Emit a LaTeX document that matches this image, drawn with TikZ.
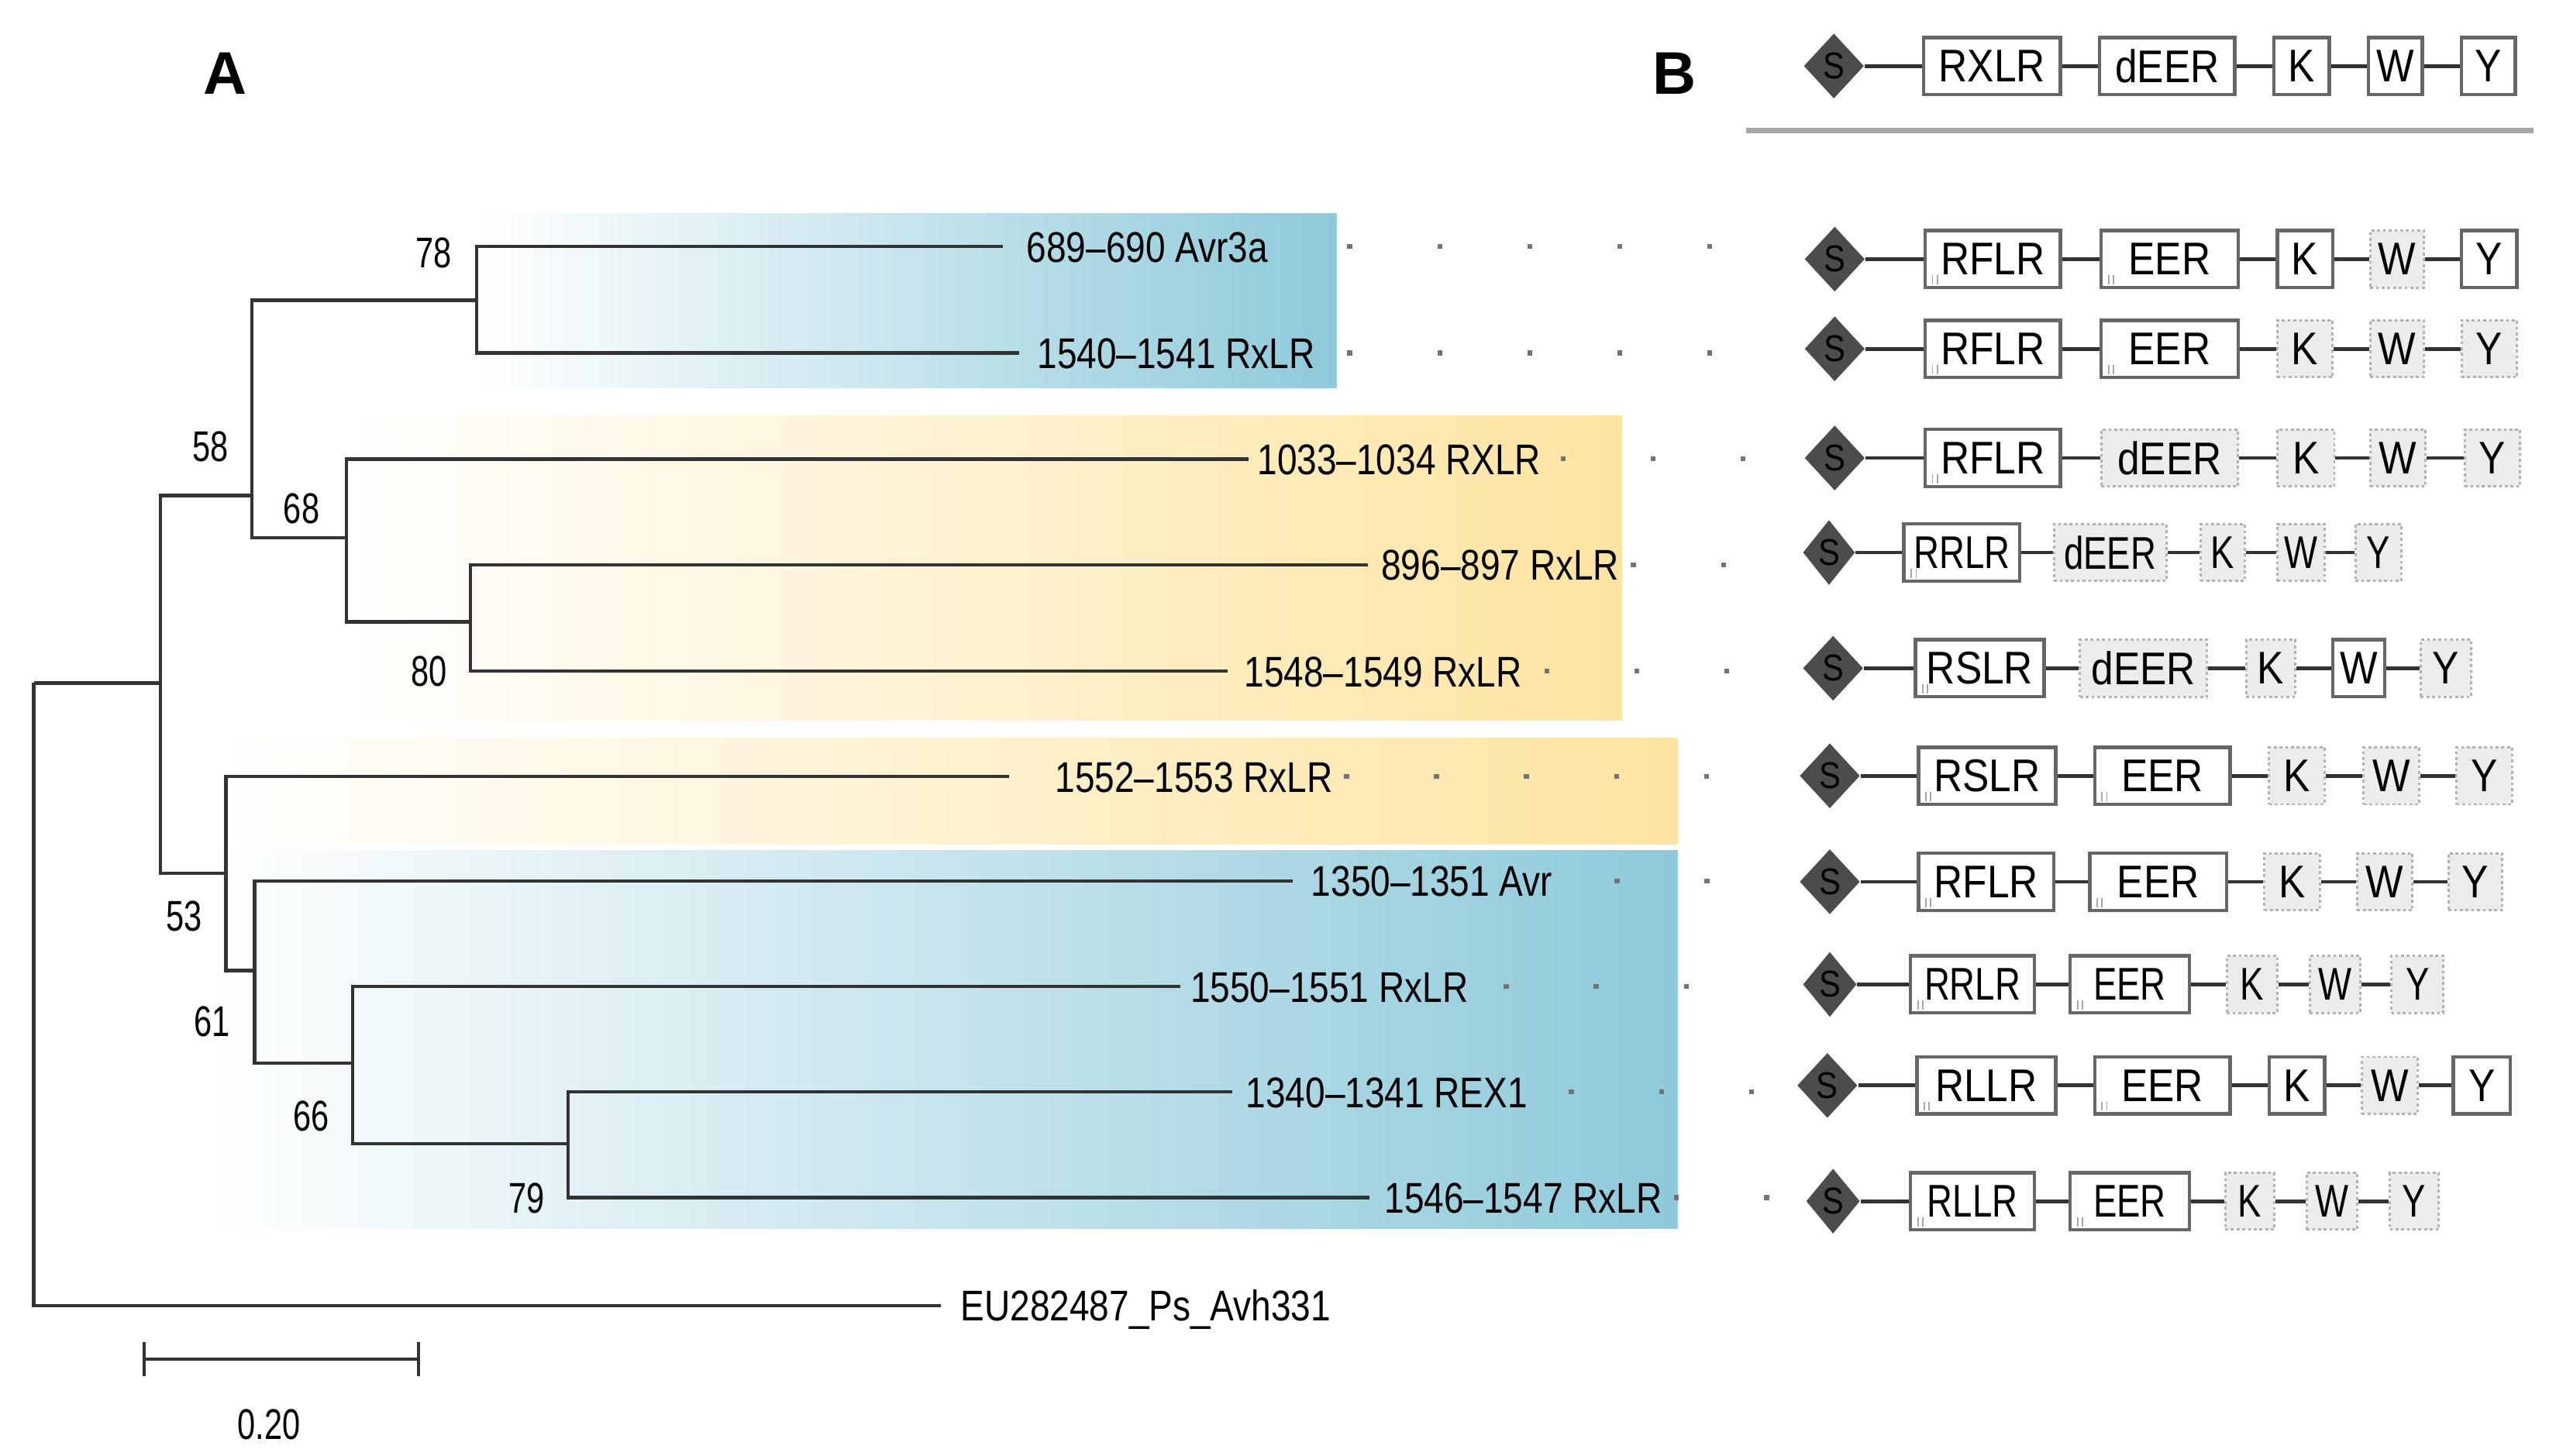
\documentclass[tikz,border=0pt]{standalone}
\usepackage{fontspec}
\setmainfont{Liberation Sans}
\newfontfamily\leaffont[FakeStretch=0.83]{Liberation Sans}
\newfontfamily\bootfont[FakeStretch=0.75]{Liberation Sans}
\newfontfamily\motiffont[FakeStretch=0.87]{Liberation Sans}
\newfontfamily\motiffontn[FakeStretch=0.77]{Liberation Sans}
\usetikzlibrary{shapes.geometric,positioning}
\definecolor{cladeblue}{RGB}{142,202,218}
\definecolor{cladeyellow}{RGB}{254,228,160}

\begin{document}
\begin{tikzpicture}[x=0.2mm, y=-0.2mm,
  branch/.style={line width=1.2pt, black!80},
  leaf/.style={anchor=west, inner sep=0pt, text height=3.8mm, text depth=0pt,
    font=\leaffont\fontsize{15}{15}\selectfont},
  boot/.style={inner sep=0pt, font=\bootfont\fontsize{15}{15}\selectfont},
  leader/.style={fill=black!55},
  panel/.style={font=\fontsize{21}{21}\selectfont\bfseries},
  sig/.style={diamond, fill=black!70, inner sep=0pt, minimum width=7.4mm,
    minimum height=8mm, font=\motiffont\fontsize{13}{13}\selectfont},
  bw/.style={minimum width=#1*0.2mm},
  motif/.style={draw=black!60, line width=1.2pt, fill=white, inner sep=0pt,
    minimum height=7mm, font=\motiffont\fontsize{16}{16}\selectfont},
  pfam/.style={motif, path picture={
      \draw[gray!70, line width=.5pt]
        ([xshift=.9mm,yshift=.4mm]path picture bounding box.south west) -- ++(0,1.1mm)
        ([xshift=1.5mm,yshift=.4mm]path picture bounding box.south west) -- ++(0,1.1mm);}},
  weak/.style={draw=gray!60, dash pattern=on 1pt off 1pt, line width=.8pt,
    fill=gray!15, inner sep=0pt, minimum height=7mm,
    font=\motiffont\fontsize{16}{16}\selectfont},
  narrow/.style={font=\motiffontn\fontsize{16}{16}\selectfont},
  link/.style={gray!40!black, line width=1.3pt}]
  \useasboundingbox (0,0) rectangle (1568,893.3);

  % clade shading
  \shade[left color=white, right color=cladeblue] (292,131) rectangle (820,238);
  \shade[left color=white, right color=cladeyellow] (207,255) rectangle (995,442);
  \shade[left color=white, right color=cladeyellow] (130,453) rectangle (1029,518);
  \shade[left color=white, right color=cladeblue] (125,522) rectangle (1029,754);

  % panel letters
  \node[panel] (pA) at (138,45) {A};
  \node[panel] (pB) at (1027,45) {B};

  % internal nodes
  \coordinate (root) at (20.7,419);
  \coordinate (nA) at (98.4,419);
  \coordinate (n58) at (154.4,304);
  \coordinate (n78) at (292.5,184.3);
  \coordinate (n68) at (212.5,330);
  \coordinate (n80) at (288.5,381.5);
  \coordinate (n53) at (138.5,535.7);
  \coordinate (n61) at (156.1,595.5);
  \coordinate (n66) at (216.2,652.3);
  \coordinate (n79) at (348.6,701.8);
  % tips
  \coordinate (t1) at (615,151.3);
  \coordinate (t2) at (625,216.5);
  \coordinate (t3) at (766,281.6);
  \coordinate (t4) at (839,346.5);
  \coordinate (t5) at (753,411.8);
  \coordinate (t6) at (619,476.5);
  \coordinate (t7) at (793,540.5);
  \coordinate (t8) at (724,605.3);
  \coordinate (t9) at (756,670);
  \coordinate (t10) at (840,734.8);
  \coordinate (out) at (577,801);

  % branches
  \foreach \p/\c in {root/nA, root/out, nA/n58, nA/n53, n58/n78, n58/n68,
      n78/t1, n78/t2, n68/t3, n68/n80, n80/t4, n80/t5, n53/t6, n53/n61,
      n61/t7, n61/n66, n66/t8, n66/n79, n79/t9, n79/t10}
    \draw[branch] (\p) |- (\c);

  % tip labels
  \node[leaf] (lab1) at (629.5,151.3) {689–690 Avr3a};
  \node[leaf] (lab2) at (636,216.5) {1540–1541 RxLR};
  \node[leaf] (lab3) at (771,281.6) {1033–1034 RXLR};
  \node[leaf] (lab4) at (847,346.5) {896–897 RxLR};
  \node[leaf] (lab5) at (763,411.8) {1548–1549 RxLR};
  \node[leaf] (lab6) at (647,476.5) {1552–1553 RxLR};
  \node[leaf] (lab7) at (804,540.5) {1350–1351 Avr};
  \node[leaf] (lab8) at (730,605.3) {1550–1551 RxLR};
  \node[leaf] (lab9) at (764,670) {1340–1341 REX1};
  \node[leaf] (lab10) at (849,734.8) {1546–1547 RxLR};
  \node[leaf] (labout) at (589,801) {EU282487\_Ps\_Avh331};

  % bootstrap values
  \node[boot] (b78) at (266,155) {78};
  \node[boot] (b58) at (129,274) {58};
  \node[boot] (b68) at (185,312) {68};
  \node[boot] (b80) at (263,412) {80};
  \node[boot] (b53) at (113,562) {53};
  \node[boot] (b61) at (130,627) {61};
  \node[boot] (b66) at (191,685) {66};
  \node[boot] (b79) at (323,735) {79};

  % dotted leaders
  \foreach \y/\s/\n in {151.3/828/5, 216.5/828/5, 281.6/959/3, 346.5/1002/2,
      411.8/949/3, 476.5/826/5, 540.5/992/2, 605.3/924/3, 670/964/3, 734.8/1028.5/2}
    \foreach \i in {1,...,\n}
      \fill[leader] ({\s+(\i-1)*55.2-1.5},{\y-1.5}) rectangle ++(3,3);

  % scale bar
  \coordinate (sb1) at (88.4,834);
  \coordinate (sb2) at (256.8,834);
  \draw[branch] (sb1) -- (sb2);
  \draw[branch] ([yshift=2.1mm]sb1) -- ([yshift=-2.1mm]sb1);
  \draw[branch] ([yshift=2.1mm]sb2) -- ([yshift=-2.1mm]sb2);
  \node[boot] (sblab) at (165,874) {0.20};

  % B: consensus
  \node[sig] (s0) at (1125,40.5) {S};
  \node[motif, bw=84] (r0) at (1222,40.5) {RXLR};
  \node[motif, bw=83] (e0) at (1329.5,40.5) {dEER};
  \node[motif, bw=34] (k0) at (1412,40.5) {K};
  \node[motif, bw=33] (w0) at (1469.5,40.5) {W};
  \node[motif, bw=33] (y0) at (1526.5,40.5) {Y};
  \draw[link] (s0) -- (r0) -- (e0) -- (k0) -- (w0) -- (y0);
  \draw[gray!70, line width=2pt] (1071,80) -- (1554,80);

  % row 1
  \node[sig] (s1) at (1125.5,159) {S};
  \node[pfam, bw=83] (r1) at (1222.5,159) {RFLR};
  \node[pfam, bw=84] (e1) at (1331,159) {EER};
  \node[motif, bw=34] (k1) at (1414,159) {K};
  \node[weak, bw=33] (w1) at (1470.5,159) {W};
  \node[motif, bw=34] (y1) at (1527,159) {Y};
  \draw[link] (s1) -- (r1) -- (e1) -- (k1) -- (w1) -- (y1);

  % row 2
  \node[sig] (s2) at (1125.5,214) {S};
  \node[pfam, bw=83] (r2) at (1222.5,214) {RFLR};
  \node[pfam, bw=84] (e2) at (1331,214) {EER};
  \node[weak, bw=34] (k2) at (1414,214) {K};
  \node[weak, bw=33] (w2) at (1470.5,214) {W};
  \node[weak, bw=34] (y2) at (1527,214) {Y};
  \draw[link] (s2) -- (r2) -- (e2) -- (k2) -- (w2) -- (y2);

  % row 3
  \node[sig] (s3) at (1125.5,281) {S};
  \node[pfam, bw=83] (r3) at (1222.5,281) {RFLR};
  \node[weak, bw=84] (e3) at (1331,281) {dEER};
  \node[weak, bw=35] (k3) at (1414.5,281) {K};
  \node[weak, bw=34] (w3) at (1471,281) {W};
  \node[weak, bw=34] (y3) at (1529,281) {Y};
  \draw[link] (s3) -- (r3) -- (e3) -- (k3) -- (w3) -- (y3);

  % row 4
  \node[sig, minimum width=6.4mm] (s4) at (1122,339) {S};
  \node[pfam, narrow, bw=71] (r4) at (1203.5,339) {RRLR};
  \node[weak, narrow, bw=69] (e4) at (1294.5,339) {dEER};
  \node[weak, narrow, bw=27] (k4) at (1363.5,339) {K};
  \node[weak, narrow, bw=29] (w4) at (1411.5,339) {W};
  \node[weak, narrow, bw=28] (y4) at (1459,339) {Y};
  \draw[link] (s4) -- (r4) -- (e4) -- (k4) -- (w4) -- (y4);

  % row 5
  \node[sig] (s5) at (1124.5,410) {S};
  \node[pfam, bw=79] (r5) at (1214.5,410) {RSLR};
  \node[weak, bw=78] (e5) at (1315,410) {dEER};
  \node[weak, bw=30] (k5) at (1393,410) {K};
  \node[motif, bw=32] (w5) at (1447,410) {W};
  \node[weak, bw=31] (y5) at (1500.5,410) {Y};
  \draw[link] (s5) -- (r5) -- (e5) -- (k5) -- (w5) -- (y5);

  % row 6
  \node[sig] (s6) at (1122.5,476) {S};
  \node[pfam, bw=84] (r6) at (1219,476) {RSLR};
  \node[pfam, bw=83] (e6) at (1326.5,476) {EER};
  \node[weak, bw=34] (k6) at (1409,476) {K};
  \node[weak, bw=34] (w6) at (1467,476) {W};
  \node[weak, bw=34] (y6) at (1524,476) {Y};
  \draw[link] (s6) -- (r6) -- (e6) -- (k6) -- (w6) -- (y6);

  % row 7
  \node[sig] (s7) at (1122.5,541) {S};
  \node[pfam, bw=83] (r7) at (1218.5,541) {RFLR};
  \node[pfam, bw=84] (e7) at (1324,541) {EER};
  \node[weak, bw=34] (k7) at (1406,541) {K};
  \node[weak, bw=34] (w7) at (1463,541) {W};
  \node[weak, bw=33] (y7) at (1518.5,541) {Y};
  \draw[link] (s7) -- (r7) -- (e7) -- (k7) -- (w7) -- (y7);

  % row 8
  \node[sig, minimum width=6.6mm] (s8) at (1122.5,604) {S};
  \node[pfam, narrow, bw=76] (r8) at (1210,604) {RRLR};
  \node[pfam, narrow, bw=73] (e8) at (1306.5,604) {EER};
  \node[weak, narrow, bw=31] (k8) at (1381.5,604) {K};
  \node[weak, narrow, bw=31] (w8) at (1432.5,604) {W};
  \node[weak, narrow, bw=32] (y8) at (1483,604) {Y};
  \draw[link] (s8) -- (r8) -- (e8) -- (k8) -- (w8) -- (y8);

  % row 9
  \node[sig] (s9) at (1121,666) {S};
  \node[pfam, bw=85] (r9) at (1218.5,666) {RLLR};
  \node[pfam, bw=83] (e9) at (1326.5,666) {EER};
  \node[motif, bw=34] (k9) at (1409,666) {K};
  \node[weak, bw=34] (w9) at (1466,666) {W};
  \node[motif, bw=35] (y9) at (1522.5,666) {Y};
  \draw[link] (s9) -- (r9) -- (e9) -- (k9) -- (w9) -- (y9);

  % row 10
  \node[sig, minimum width=6.6mm] (s10) at (1124.5,737) {S};
  \node[pfam, narrow, bw=76] (r10) at (1210,737) {RLLR};
  \node[pfam, narrow, bw=73] (e10) at (1306.5,737) {EER};
  \node[weak, narrow, bw=30] (k10) at (1380,737) {K};
  \node[weak, narrow, bw=31] (w10) at (1430.5,737) {W};
  \node[weak, narrow, bw=30] (y10) at (1481,737) {Y};
  \draw[link] (s10) -- (r10) -- (e10) -- (k10) -- (w10) -- (y10);
\end{tikzpicture}
\end{document}
